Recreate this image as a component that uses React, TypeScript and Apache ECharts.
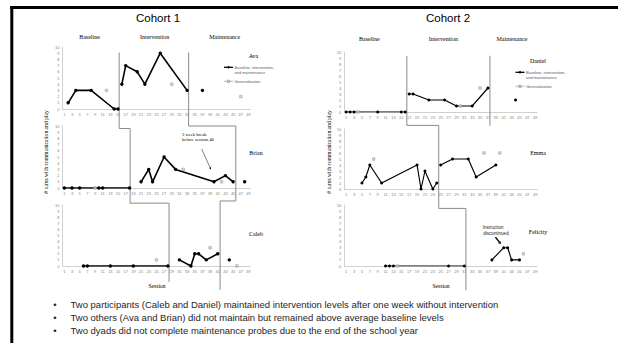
import React, { useEffect, useRef } from "react";
import * as echarts from "echarts";

// ---------- tick labels ----------
const sessionTicks = [1, 3, 5, 7, 9, 11, 13, 15, 17, 19, 21, 23, 25, 27, 29, 31, 33, 35, 37, 39, 41, 43, 45, 47, 49];

// ---------- Cohort 1 ----------
const avaBaselineSessions = [2, 4, 8, 14, 15];
const avaBaselineValues = [1, 3, 3, 0, 0];
const avaInterventionSessions = [16, 17, 20, 22, 26, 33];
const avaInterventionValues = [4, 7, 6, 4, 9, 3];
const avaMaintenanceSessions = [37];
const avaMaintenanceValues = [3];
const avaGeneralizationSessions = [12, 29, 47];
const avaGeneralizationValues = [3, 4, 2];

const brianBaselineSessions = [1, 3, 5, 10, 11, 18];
const brianBaselineValues = [0, 0, 0, 0, 0, 0];
const brianInterventionSessions = [21, 23, 24, 27, 30, 40, 43, 45];
const brianInterventionValues = [1, 3, 1, 5, 3, 1, 2, 1];
const brianMaintenanceSessions = [48];
const brianMaintenanceValues = [1];
const brianGeneralizationSessions = [9, 32, 42];
const brianGeneralizationValues = [0, 3, 1];

const calebBaselineSessions = [6, 7, 13, 19, 28];
const calebBaselineValues = [0, 0, 0, 0, 0];
const calebInterventionSessions = [31, 34, 35, 36, 38, 41];
const calebInterventionValues = [1, 0, 2, 2, 1, 2];
const calebMaintenanceSessions = [44];
const calebMaintenanceValues = [1];
const calebGeneralizationSessions = [25, 39, 46];
const calebGeneralizationValues = [1, 3, 0];

// ---------- Cohort 2 ----------
const danielBaselineSessions = [1, 2, 3, 9, 15, 16];
const danielBaselineValues = [0, 0, 0, 0, 0, 0];
const danielInterventionSessions = [17, 18, 22, 26, 29, 33, 37];
const danielInterventionValues = [3, 3, 2, 2, 1, 1, 4];
const danielMaintenanceSessions = [44];
const danielMaintenanceValues = [2];
const danielGeneralizationSessions = [4, 30, 35];
const danielGeneralizationValues = [0, 1, 4];

const emmaBaselineSessions = [5, 6, 7, 10, 19, 20, 21, 23, 24];
const emmaBaselineValues = [1, 2, 4, 1, 4, 0, 3, 0, 1];
const emmaInterventionSessions = [25, 28, 32, 34, 39];
const emmaInterventionValues = [4, 5, 5, 2, 4];
const emmaGeneralizationSessions = [8, 36, 40];
const emmaGeneralizationValues = [5, 6, 6];

const felicityBaselineSessions = [11, 12, 13, 27, 31];
const felicityBaselineValues = [0, 0, 0, 0, 0];
const felicityInterventionSessions = [38, 41, 42, 43, 45];
const felicityInterventionValues = [1, 3, 3, 1, 1];
const felicityGeneralizationSessions = [14, 46];
const felicityGeneralizationValues = [0, 2];

// phase-change lines: [panel, session, value]
const cohort1BaselineChange = [[0, 15.3, 9.1], [1, 15.3, 9.6], [1, 18.15, 9.6], [2, 18.15, 10.3], [2, 28.3, 10.3], [2, 28.3, -2.6]];
const cohort1MaintenanceChange = [[0, 33.4, 9.1], [1, 33.4, 10.0], [1, 45.7, 10.0], [2, 45.7, 10.66], [2, 41.6, 10.66], [2, 41.6, -3.9]];
const cohort2BaselineChange = [[3, 16.4, 9.33], [4, 16.4, 10.6], [4, 24.5, 10.6], [5, 24.5, 9.44], [5, 31.4, 9.44], [5, 31.4, -3.95]];
const cohort2MaintenanceChange = [[3, 37.5, 9.38], [4, 37.5, 10.55]];

// annotation arrows: [panel, session, value] start -> end
const brianBreakArrow = [[1, 36.8, 6.3], [1, 39.2, 3.0]];
const felicityArrow = [[5, 38.9, 4.73], [5, 40.3, 3.57]];

const participants = [
  { name: "Ava", b: [avaBaselineSessions, avaBaselineValues], i: [avaInterventionSessions, avaInterventionValues], m: [avaMaintenanceSessions, avaMaintenanceValues], g: [avaGeneralizationSessions, avaGeneralizationValues] },
  { name: "Brian", b: [brianBaselineSessions, brianBaselineValues], i: [brianInterventionSessions, brianInterventionValues], m: [brianMaintenanceSessions, brianMaintenanceValues], g: [brianGeneralizationSessions, brianGeneralizationValues] },
  { name: "Caleb", b: [calebBaselineSessions, calebBaselineValues], i: [calebInterventionSessions, calebInterventionValues], m: [calebMaintenanceSessions, calebMaintenanceValues], g: [calebGeneralizationSessions, calebGeneralizationValues] },
  { name: "Daniel", b: [danielBaselineSessions, danielBaselineValues], i: [danielInterventionSessions, danielInterventionValues], m: [danielMaintenanceSessions, danielMaintenanceValues], g: [danielGeneralizationSessions, danielGeneralizationValues] },
  { name: "Emma", b: [emmaBaselineSessions, emmaBaselineValues], i: [emmaInterventionSessions, emmaInterventionValues], m: [[], []], g: [emmaGeneralizationSessions, emmaGeneralizationValues] },
  { name: "Felicity", b: [felicityBaselineSessions, felicityBaselineValues], i: [felicityInterventionSessions, felicityInterventionValues], m: [[], []], g: [felicityGeneralizationSessions, felicityGeneralizationValues] },
];

const bulletTexts = [
  "Two participants (Caleb and Daniel) maintained intervention levels after one week without intervention",
  "Two others (Ava and Brian) did not maintain but remained above average baseline levels",
  "Two dyads did not complete maintenance probes due to the end of the school year",
];

const grids = [
  { left: 62.4, top: 47, width: 188, height: 62 },
  { left: 62.4, top: 126, width: 188, height: 62 },
  { left: 62.4, top: 205, width: 188, height: 61 },
  { left: 344.2, top: 52, width: 193, height: 60 },
  { left: 344.2, top: 129, width: 193, height: 60 },
  { left: 344.2, top: 205, width: 193, height: 61 },
];

const SERIF = "Liberation Serif";
const SANS = "Liberation Sans";

function pairs(s: number[], v: number[]) {
  return s.map((x, k) => [x, v[k]]);
}

function buildOption() {
  const series: any[] = [];
  participants.forEach((p, idx) => {
    const lw = idx < 3 ? 1.6 : 1.15;
    const sz = idx < 3 ? 3.4 : 3;
    [p.b, p.i, p.m].forEach((ph: any) => {
      if (!ph[0].length) return;
      series.push({
        type: "line", xAxisIndex: idx, yAxisIndex: idx, data: pairs(ph[0], ph[1]),
        symbol: "circle", symbolSize: sz, showSymbol: true,
        lineStyle: { color: "#000", width: lw }, itemStyle: { color: "#000" },
        silent: true, z: 3,
      });
    });
    series.push({
      type: "scatter", xAxisIndex: idx, yAxisIndex: idx, data: pairs(p.g[0], p.g[1]),
      symbol: "rect", symbolSize: 2.6,
      itemStyle: { color: "#c8c8c8", borderColor: "#8c8c8c", borderWidth: 0.5 }, silent: true, z: 4,
    });
  });
  return {
    animation: false,
    backgroundColor: "#fff",
    textStyle: { fontFamily: SANS },
    grid: grids.map((g) => ({ ...g, containLabel: false, outerBoundsMode: "none" })),
    xAxis: grids.map((_, k) => ({
      type: "value", gridIndex: k, min: 0.5, max: 49.5,
      axisLine: { show: true, onZero: false, lineStyle: { color: "#d0d0d0", width: 1 } },
      axisTick: { show: false }, splitLine: { show: false },
      axisLabel: { customValues: sessionTicks, fontSize: 4, color: "#7f7f7f", margin: 3, fontFamily: SANS },
    })),
    yAxis: grids.map((_, k) => ({
      type: "value", gridIndex: k, min: 0, max: 10, interval: 1,
      axisLine: { show: true, onZero: false, lineStyle: { color: "#d0d0d0", width: 1 } },
      axisTick: { show: false }, splitLine: { show: false },
      axisLabel: { fontSize: 4, color: "#7f7f7f", margin: 3, fontFamily: SANS },
    })),
    series,
  };
}

function txt(text: string, x: number, y: number, size: number, font: string, opts: any = {}) {
  return {
    type: "text", x, y, silent: true, z: 10, rotation: opts.rotation || 0,
    style: {
      text, fontSize: size, fontFamily: font, fill: opts.fill || "#000",
      textAlign: opts.align || "center", textVerticalAlign: "middle",
    },
  };
}

function legend(x: number, y: number) {
  const els: any[] = [];
  els.push({ type: "line", shape: { x1: x, y1: y, x2: x + 9, y2: y }, style: { stroke: "#000", lineWidth: 1.3 }, silent: true });
  els.push({ type: "circle", shape: { cx: x + 4.5, cy: y, r: 1.2 }, style: { fill: "#000" }, silent: true });
  els.push(txt("Baseline, intervention,", x + 10.5, y, 4, SANS, { align: "left", fill: "#595959" }));
  els.push(txt("and maintenance", x + 10.5, y + 5.6, 4, SANS, { align: "left", fill: "#595959" }));
  els.push({ type: "line", shape: { x1: x, y1: y + 14, x2: x + 9, y2: y + 14 }, style: { stroke: "#a6a6a6", lineWidth: 0.8 }, silent: true });
  els.push({ type: "rect", shape: { x: x + 3.3, y: y + 12.8, width: 2.4, height: 2.4 }, style: { fill: "#c8c8c8", stroke: "#8c8c8c", lineWidth: 0.5 }, silent: true });
  els.push(txt("Generalization", x + 10.5, y + 14, 4, SANS, { align: "left", fill: "#595959" }));
  return els;
}

function staticGraphics() {
  const g: any[] = [];
  // slide frame
  g.push({ type: "line", shape: { x1: 11.8, y1: 6, x2: 11.8, y2: 343 }, style: { stroke: "#000", lineWidth: 3 }, silent: true });
  g.push({ type: "line", shape: { x1: 10.3, y1: 7.5, x2: 618, y2: 7.5 }, style: { stroke: "#000", lineWidth: 3 }, silent: true });
  // titles
  g.push(txt("Cohort 1", 158, 18, 11.5, SANS));
  g.push(txt("Cohort 2", 448, 18, 11.5, SANS));
  // phase labels
  g.push(txt("Baseline", 89.5, 36.5, 6, SERIF));
  g.push(txt("Intervention", 154.7, 36.5, 6, SERIF));
  g.push(txt("Maintenance", 224.7, 36.5, 6, SERIF));
  g.push(txt("Baseline", 369.3, 39, 6, SERIF));
  g.push(txt("Intervention", 443.3, 39, 6, SERIF));
  g.push(txt("Maintenance", 512, 39, 6, SERIF));
  // names
  g.push(txt("Ava", 253.5, 55.5, 6, SERIF));
  g.push(txt("Brian", 256, 153, 6, SERIF));
  g.push(txt("Caleb", 256, 234, 6, SERIF));
  g.push(txt("Daniel", 538, 61, 6, SERIF));
  g.push(txt("Emma", 538, 153, 6, SERIF));
  g.push(txt("Felicity", 538, 232.3, 6, SERIF));
  // legends
  g.push(...legend(224, 67.3));
  g.push(...legend(515.5, 72.3));
  // y titles
  g.push(txt("# turns with communication and play", 45.5, 152, 5.6, SERIF, { rotation: Math.PI / 2 }));
  g.push(txt("# turns with communication and play", 329.3, 152, 5.6, SERIF, { rotation: Math.PI / 2 }));
  // x titles
  g.push(txt("Session", 157, 286, 5.6, SERIF));
  g.push(txt("Session", 441, 286, 5.6, SERIF));
  // annotations
  g.push(txt("3 week break", 182, 134.7, 4.6, SERIF, { align: "left" }));
  g.push(txt("before session 40", 182, 139.4, 4.6, SERIF, { align: "left" }));
  g.push(txt("Instruction", 493, 227, 4.5, SANS, { fill: "#222" }));
  g.push(txt("discontinued", 496, 233.7, 4.5, SANS, { fill: "#222" }));
  // bullets
  bulletTexts.forEach((b, k) => {
    const y = 304 + k * 13;
    g.push(txt("\u2022", 55, y, 9.5, SANS, { fill: "#262626" }));
    g.push(txt(b, 70.5, y, 9.5, SANS, { align: "left", fill: "#262626" }));
  });
  return g;
}

export default function App() {
  const ref = useRef<HTMLDivElement>(null);
  useEffect(() => {
    const chart = echarts.init(ref.current!, undefined, { renderer: "svg", width: 618, height: 343 });
    chart.setOption(buildOption() as any);
    const px = (p: number, s: number, v: number) => chart.convertToPixel({ gridIndex: p } as any, [s, v]) as number[];
    const g = staticGraphics();
    [cohort1BaselineChange, cohort1MaintenanceChange, cohort2BaselineChange, cohort2MaintenanceChange].forEach((path) => {
      const pts = path.map(([p, s, v]) => px(p, s, v));
      g.push({ type: "polyline", shape: { points: pts }, style: { stroke: "#8a8a8a", lineWidth: 1, fill: null }, silent: true, z: 2 });
    });
    const arrow = (a: number[][], width: number, head: number) => {
      const s = px(a[0][0], a[0][1], a[0][2]);
      const e = px(a[1][0], a[1][1], a[1][2]);
      const dx = e[0] - s[0], dy = e[1] - s[1];
      const len = Math.sqrt(dx * dx + dy * dy);
      const ux = dx / len, uy = dy / len;
      const bx = e[0] - ux * head, by = e[1] - uy * head;
      const w = head * 0.55;
      g.push({ type: "line", shape: { x1: s[0], y1: s[1], x2: bx, y2: by }, style: { stroke: "#000", lineWidth: width }, silent: true, z: 6 });
      g.push({ type: "polygon", shape: { points: [[e[0], e[1]], [bx - uy * w, by + ux * w], [bx + uy * w, by - ux * w]] }, style: { fill: "#000" }, silent: true, z: 6 });
    };
    arrow(brianBreakArrow, 0.5, 2);
    arrow(felicityArrow, 1.4, 2.8);
    chart.setOption({ graphic: g } as any);
    return () => chart.dispose();
  }, []);
  return <div ref={ref} style={{ position: "absolute", left: 0, top: 0, width: 618, height: 343, background: "#fff" }} />;
}
